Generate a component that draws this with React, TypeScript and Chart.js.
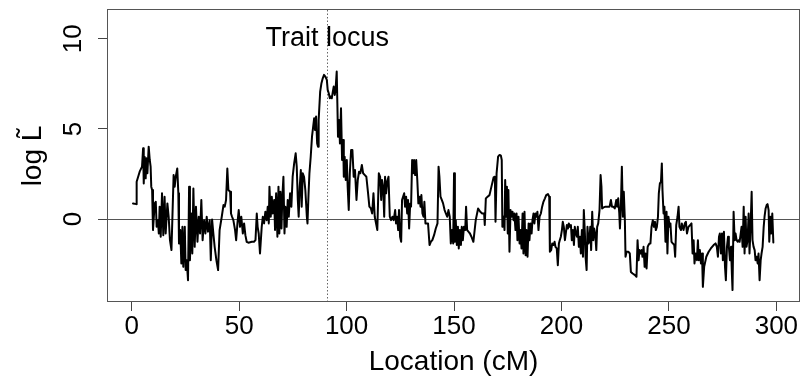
import React, { useEffect, useRef } from "react";
import { Chart, registerables } from "chart.js";

Chart.register(...registerables);

// Map position along the genome (cM)
const locationCM = [
  0.6, 2.2, 2.3, 3.7, 4.8, 5.3, 5.6, 6.0, 6.5, 6.8, 7.3, 7.9, 8.4, 8.8, 9.1, 9.5, 9.9, 10.7, 11.2, 11.6,
  12.2, 12.6, 13.0, 13.5, 14.1, 14.7, 15.3, 15.8, 16.6, 17.2, 17.8, 18.5, 18.9, 19.5, 20.0, 20.5, 21.2, 21.7, 22.0, 22.6,
  23.1, 23.6, 24.0, 24.7, 25.1, 25.6, 26.2, 26.7, 27.1, 27.8, 28.2, 28.7, 29.3, 29.9, 30.6, 31.2, 31.8, 32.4, 33.0, 33.7,
  34.3, 34.9, 35.5, 36.3, 36.8, 37.4, 38.0, 38.6, 39.4, 40.2, 40.9,
  41.9, 42.7, 43.3, 43.9, 44.5, 45.0, 45.8, 46.2, 46.7, 47.3, 48.1, 48.6, 49.2, 49.8, 50.4, 51.0, 51.7, 52.3, 52.9, 53.5,
  54.3, 55.9, 56.9, 57.6, 58.2, 58.6, 59.1, 59.7, 60.5, 61.0, 61.6, 62.2, 62.8, 63.3, 63.8, 64.1, 64.7, 65.2, 65.6, 66.3,
  66.7, 67.2, 67.8, 68.3, 68.7, 69.2, 69.7, 70.1, 70.6, 71.1, 71.5, 72.1, 72.6, 73.1, 73.7, 74.3, 74.9, 75.6, 76.3, 76.8,
  77.3, 77.7, 78.2, 78.7, 79.1, 79.6, 80.2, 80.8, 81.5, 81.8, 82.3, 82.7, 83.3, 83.9,
  84.9, 85.3, 85.8, 86.3, 86.7, 87.0, 87.7, 88.3, 88.9, 89.5, 90.1, 90.8, 91.2, 91.7, 92.2, 92.6, 93.1, 93.6, 94.0, 94.5,
  94.9, 95.4, 95.7, 96.0, 96.5, 96.9, 97.4, 97.9, 98.4, 98.7, 99.1, 99.6, 100.1, 100.5, 101.0, 101.5, 102.1, 102.7, 103.3, 103.9,
  104.6, 105.2, 105.8, 106.4, 107.1, 107.7, 108.5, 109.2, 110.0, 110.6, 111.3, 111.9, 112.5, 113.1, 113.7, 114.3, 115.0, 115.6, 116.1, 116.5,
  117.0, 117.5, 117.9, 118.4, 118.9, 119.5, 120.1, 120.7, 121.3, 121.9, 122.6, 123.0, 123.5, 124.0, 124.4, 124.9, 125.4, 125.8,
  126.8, 127.2, 127.7, 128.2, 128.6, 129.1, 129.6, 130.0, 130.5, 131.0, 131.4, 131.9, 132.4, 132.9, 133.4, 133.9, 134.4, 134.8, 135.3, 135.8,
  136.2, 136.7, 137.3, 137.9, 138.6, 139.2, 139.9, 140.7, 141.5, 142.3, 142.8, 143.2, 143.7, 144.3, 144.9, 145.6, 146.2, 146.8, 147.4, 148.0,
  148.5, 149.0, 149.6, 150.0, 150.4, 150.8, 151.3, 151.8, 152.2, 152.7, 153.2, 153.6, 154.1, 154.6, 155.2, 155.6, 156.1, 156.7, 157.4, 158.1,
  159.0, 160.1, 161.2, 162.2, 163.1, 164.0, 164.3, 164.8, 165.6, 166.5, 167.4, 168.4, 169.0, 169.3, 169.8,
  170.5, 171.2, 171.8, 172.2, 172.5, 173.0, 173.5, 173.8, 174.3, 174.6, 175.0, 175.3, 175.8, 176.3, 176.7, 177.2, 177.7, 178.1, 178.6, 179.1,
  179.5, 180.0, 180.5, 180.9, 181.4, 181.9, 182.3, 182.8, 183.3, 183.7, 184.2, 184.7, 185.1, 185.6, 186.1, 186.5, 187.0, 187.4, 187.9, 188.4,
  188.8, 189.3, 189.8, 190.4, 191.0, 191.6, 192.3, 192.9, 193.7, 194.3, 194.6, 195.2, 195.7, 196.3, 196.8, 197.2, 197.8, 198.3, 198.8, 199.2,
  199.7, 200.2, 200.6, 201.1, 201.6, 202.0, 202.5, 203.0, 203.4, 203.9, 204.4, 204.8, 205.3, 205.8, 206.2, 206.7, 207.2, 207.6, 208.1, 208.6,
  209.0, 209.5, 210.0, 210.4, 210.9, 211.2, 211.7, 212.1, 212.6, 213.0,
  213.4, 213.8, 214.3, 214.8, 215.2, 215.7, 216.2, 216.6, 217.1, 217.7, 218.2, 218.6, 218.9, 219.6, 220.5, 221.4, 222.4, 223.0, 223.5, 224.1,
  224.8, 225.5, 225.9, 226.4, 226.9, 227.2, 227.6, 228.1, 228.6, 229.0, 229.5, 229.8, 230.3, 231.1, 231.8, 232.3, 233.1, 234.2, 234.9, 235.4,
  235.9, 236.3, 236.8, 237.3, 237.7, 238.2, 238.7, 239.1, 239.6, 240.1, 240.5, 241.0, 241.4, 241.9, 242.5, 243.0, 243.5, 243.9, 244.4, 244.9,
  245.3, 245.8, 246.3, 246.7, 247.0, 247.5, 247.9, 248.4, 248.9, 249.3, 249.8, 250.3, 250.7, 251.2, 251.8, 252.5, 252.9, 253.4, 254.0, 254.5,
  254.9, 255.6,
  256.0, 256.8, 257.4, 257.9, 258.4, 259.1, 259.9, 260.5, 261.0, 261.5, 261.9, 262.4, 263.0, 263.5, 263.9, 264.4, 264.9, 265.4, 265.8, 266.4,
  267.4, 268.5, 269.5, 270.8, 271.7, 272.3, 272.8, 273.3, 273.7, 274.2, 274.7, 275.1, 275.6, 276.1, 276.5, 277.0, 277.5, 277.9, 278.4, 278.9,
  279.3, 279.6, 280.1, 280.6, 281.0, 281.5, 282.0, 282.4, 282.9, 283.4, 283.8, 284.3, 284.8, 285.2, 285.7, 286.1, 286.6, 287.1, 287.5, 288.0,
  288.5, 288.9, 289.4, 289.9, 290.3, 290.8, 291.3, 291.7, 292.2, 292.7, 293.1, 293.6, 294.1, 294.5, 295.0, 295.5, 295.9, 296.4, 296.7, 297.2,
  297.6, 298.1, 298.6,
];

// log L-tilde profile values
const logLValues = [
  0.87, 0.83, 2.07, 2.63, 2.91, 3.93, 1.98, 3.46, 2.26, 3.37, 2.54, 4.02, 3.28, 2.91, 1.80, 1.61, -0.61, 0.87, 0.96, -0.43,
  -0.06, -0.80, 0.69, -0.98, 1.43, -0.89, 1.24, -0.80, 0.87, 0.13, -1.17, -1.72, -0.06, 2.44, 1.80, 2.35, 2.81, 1.43, -1.35, -0.61,
  -2.46, -0.43, -2.65, -0.43, -2.83, -2.28, -3.39, 1.80, -2.28, 0.31, -1.91, 1.70, -1.54, 0.69, -1.26, 0.13, -0.80, 1.06, -1.17, -0.06,
  -0.80, 0.13, -0.70, -0.06, -2.28, -0.02, -0.80, -1.54, -2.28, -2.83, -0.61,
  0.13, 0.78, 0.69, 1.06, 2.81, 1.61, 1.52, 0.31, 0.13, -0.06, -0.61, -1.17, -0.24, 0.50, -0.43, 0.13, -0.80, -0.24, -0.89, -1.26,
  -1.31, -1.26, -1.26, -1.17, 0.31, -0.43, -0.80, -1.91, -0.43, 0.13, -0.24, 0.41, -0.06, 0.69, -0.24, 1.80, 0.13, 1.24, 0.31, 1.06,
  -0.61, 1.43, -0.98, 1.80, -0.80, 1.52, -0.52, 1.24, 2.35, -0.80, 0.69, -0.43, 1.06, 0.13, 1.43, 0.69, 2.35, 3.09, 3.65, 2.91,
  1.06, 0.13, 1.80, 2.72, 0.69, 2.54, 2.35, 1.61, 0.13, -0.24, 1.43, 2.54, 3.46, 4.57,
  5.59, 4.94, 5.69, 4.20, 4.02, 5.50, 7.07, 7.54, 7.81, 8.00, 7.91, 7.72, 7.17, 6.98, 6.70, 6.80, 6.70, 7.07, 7.35, 6.89,
  7.26, 8.19, 6.43, 4.57, 5.50, 4.20, 6.15, 3.28, 4.39, 2.35, 3.46, 2.17, 3.28, 1.80, 0.50, 2.54, 3.83, 3.83, 2.35, 2.72,
  1.06, 2.17, 2.63, 2.54, 3.00, 2.54, 2.44, 2.35, 1.43, 0.69, 0.59, 0.31, 1.43, 0.13, -0.24, -0.61, 2.54, 2.35, 1.06, 2.17,
  1.80, 0.13, 2.35, 1.43, 2.07, 2.35, 0.13, -0.06, 0.13, -0.06, 0.50, -0.24, 0.13, -0.61, 0.50, -0.98, -1.26, 1.06,
  1.43, 0.69, 1.24, 0.31, 1.06, -0.52, 0.87, 0.69, 3.28, 2.54, 3.28, 2.44, 3.28, 2.17, 0.87, 1.24, 0.69, 1.33, 0.31, 0.13,
  0.96, -0.24, -0.24, -0.24, -1.44, -1.26, -1.17, -0.89, -0.52, -0.24, 2.91, 2.35, 1.24, 1.06, 0.87, 0.50, 0.31, 0.13, 0.50, 0.13,
  -1.35, -0.61, -1.35, 2.54, -1.26, -0.06, -1.44, -0.43, -1.63, -0.61, -1.44, -0.43, -1.17, -0.43, -0.61, 0.69, -0.61, -0.70, -0.80, -0.98,
  -1.26, -0.06, 0.59, 0.41, 0.31, 0.31, -0.33, 1.15, 1.24, 1.33, 1.80, 2.31, 2.35, -0.15, 2.54,
  3.46, 3.56, 3.52, 3.28, -0.43, 0.13, -0.61, 2.17, 0.13, 1.80, -0.80, 1.61, -1.81, 0.50, 0.13, 0.41, -0.06, 0.31, -0.61, 0.31,
  -1.17, 0.13, -1.35, -0.61, -1.63, 0.31, -1.91, 0.41, -2.00, -0.61, -2.09, -0.24, -1.17, -0.24, -0.80, -0.06, 0.31, -0.24, 0.31, 0.13,
  0.41, -0.61, 0.13, 0.31, 0.69, 0.96, 1.15, 1.33, 1.39, 1.24, -1.81, -1.72, -1.35, -1.44, -1.26, -1.54, -1.63, -2.56, -1.35, -1.17,
  -0.98, -0.61, -0.15, -0.43, -1.17, -0.80, -0.33, -0.52, -0.24, -0.43, -0.33, -1.17, -0.61, -1.44, -0.43, -0.80, -0.98, -0.43, -1.54, -0.98,
  -1.91, -0.61, -2.09, 0.50, -0.80, -2.09, -2.83, -0.43, -1.35, -1.17,
  -0.43, -1.72, 0.41, -1.17, -0.52, -0.80, -1.72, -0.43, -0.24, 0.50, 2.44, 1.80, 0.59, 0.65, 0.69, 0.69, 0.69, 1.06, 0.69, 0.69,
  0.59, 1.06, 0.69, 1.15, 0.31, -0.52, 0.50, 2.91, 0.13, 1.52, -0.06, -2.09, -1.81, -1.81, -1.91, -2.93, -3.02, -3.11, -3.20, -1.17,
  -2.28, -1.72, -1.91, -1.72, -2.09, -1.54, -2.65, -1.91, -2.74, -1.54, -1.44, -1.35, -1.35, -0.43, -0.06, -0.43, -0.15, -0.61, -0.43, 0.13,
  1.43, 1.98, 2.07, 3.09, 1.61, 0.31, 0.69, -1.26, 0.41, -1.91, 0.13, -0.43, -0.24, -1.26, -1.35, -1.44, -2.09, -0.33, 0.13, 0.69,
  -0.43, -0.61,
  -0.24, -0.61, -0.24, -0.15, -0.80, -0.43, -0.33, -0.24, -1.91, -1.17, -2.46, -1.91, -2.28, -1.17, -2.28, -1.72, -2.46, -1.91, -3.76, -2.65,
  -2.09, -1.81, -1.63, -1.44, -1.35, -1.54, -2.09, -0.98, -0.80, -1.91, -0.80, -2.28, -0.70, -2.65, -3.39, -1.54, -0.98, -1.54, -2.28, -1.54,
  -3.02, -3.94, 0.41, -1.17, -0.80, -1.17, -1.26, -1.17, -1.26, -0.80, -0.43, -1.54, 0.69, -1.91, 0.13, -1.54, -1.17, 0.31, -1.91, -0.43,
  1.52, -1.17, -1.54, -1.72, -2.28, -2.09, -2.46, -1.91, -3.39, -2.28, -1.91, -1.54, -0.43, 0.13, 0.59, 0.78, 0.83, 0.50, -1.26, 0.13,
  -0.80, 0.31, -1.30,
];

const xTickValues = [0, 50, 100, 150, 200, 250, 300];
const yTickValues = [0, 5, 10];
const xLimits = [-11.5, 311];
const yLimits = [-4.6, 11.6];
const referenceLevel = 0;
const traitLocusCM = 91;
const traitLabel = "Trait locus";
const traitLabelLevel = 10;
const xTitle = "Location (cM)";
const yTitle = "log L\u0303";

const FONT = "'Liberation Sans', Arial, Helvetica, sans-serif";

export default function App() {
  const canvasRef = useRef<HTMLCanvasElement | null>(null);

  useEffect(() => {
    if (!canvasRef.current) return;

    const overlay = {
      id: "overlay",
      beforeDatasetsDraw(chart: any) {
        const { ctx, chartArea: a, scales } = chart;
        const xs = scales.x;
        const ys = scales.y;
        ctx.save();
        // horizontal reference line at 0
        const y0 = Math.round(ys.getPixelForValue(referenceLevel)) + 0.5;
        ctx.strokeStyle = "#555";
        ctx.lineWidth = 1;
        ctx.beginPath();
        ctx.moveTo(a.left, y0);
        ctx.lineTo(a.right, y0);
        ctx.stroke();
        // dotted trait locus line
        const xl = Math.round(xs.getPixelForValue(traitLocusCM)) + 0.5;
        ctx.setLineDash([1.5, 2]);
        ctx.strokeStyle = "#666";
        ctx.beginPath();
        ctx.moveTo(xl, a.top);
        ctx.lineTo(xl, a.bottom);
        ctx.stroke();
        ctx.restore();
      },
      afterDraw(chart: any) {
        const { ctx, chartArea: a, scales } = chart;
        ctx.save();
        ctx.fillStyle = "#000";
        ctx.font = `27px ${FONT}`;
        ctx.textAlign = "center";
        ctx.textBaseline = "middle";
        ctx.fillText(
          traitLabel,
          scales.x.getPixelForValue(traitLocusCM),
          scales.y.getPixelForValue(traitLabelLevel)
        );
        ctx.strokeStyle = "#555";
        ctx.lineWidth = 1;
        ctx.strokeRect(a.left + 0.5, a.top - 0.5, a.right - a.left - 1, a.bottom - a.top);
        ctx.restore();
      },
    };

    const chart = new Chart(canvasRef.current, {
      type: "line",
      data: {
        datasets: [
          {
            data: locationCM.map((x, i) => ({ x, y: logLValues[i] })),
            borderColor: "#000",
            borderWidth: 2,
            pointRadius: 0,
            tension: 0,
            fill: false,
            borderJoinStyle: "round",
            borderCapStyle: "round",
          },
        ],
      },
      options: {
        responsive: false,
        animation: false,
        layout: { padding: { top: 10, right: 4, left: 0, bottom: 0 } },
        plugins: { legend: { display: false }, tooltip: { enabled: false } },
        scales: {
          x: {
            type: "linear",
            min: xLimits[0],
            max: xLimits[1],
            afterBuildTicks: (s: any) => {
              s.ticks = xTickValues.map((v) => ({ value: v }));
            },
            afterFit: (s: any) => {
              s.height = 82;
              s.paddingLeft = 0;
              s.paddingRight = 0;
            },
            grid: { drawOnChartArea: false, drawTicks: true, tickLength: 9, color: "#444", lineWidth: 1 },
            border: { display: false },
            ticks: {
              color: "#000",
              font: { family: FONT, size: 26 },
              padding: 0,
              minRotation: 0,
              maxRotation: 0,
              autoSkip: false,
            },
            title: {
              display: true,
              text: xTitle,
              color: "#000",
              font: { family: FONT, size: 28 },
              padding: { top: 0, bottom: 5 },
            },
          },
          y: {
            type: "linear",
            min: yLimits[0],
            max: yLimits[1],
            afterBuildTicks: (s: any) => {
              s.ticks = yTickValues.map((v) => ({ value: v }));
            },
            afterFit: (s: any) => {
              s.width = 107;
              s.paddingTop = 0;
              s.paddingBottom = 0;
            },
            grid: { drawOnChartArea: false, drawTicks: true, tickLength: 9, color: "#444", lineWidth: 1 },
            border: { display: false },
            ticks: {
              color: "#000",
              font: { family: FONT, size: 26 },
              padding: 10,
              minRotation: 90,
              maxRotation: 90,
              crossAlign: "center",
              autoSkip: false,
            },
            title: {
              display: true,
              text: yTitle,
              color: "#000",
              font: { family: FONT, size: 28 },
              padding: { top: 16, bottom: 0 },
            },
          },
        },
      },
      plugins: [overlay],
    } as any);

    return () => chart.destroy();
  }, []);

  return (
    <div style={{ position: "absolute", left: 0, top: 0, width: 804, height: 384, background: "#fff" }}>
      <canvas ref={canvasRef} width={804} height={384} />
    </div>
  );
}
